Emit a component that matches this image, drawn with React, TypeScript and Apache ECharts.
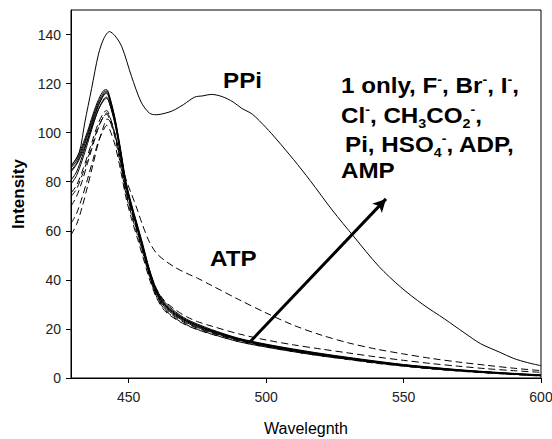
import React, { useEffect, useRef } from "react";
import * as echarts from "echarts";

// Wavelengths (nm) for the cluster / ATP curves
const WL = [429, 431, 433, 435, 437, 439, 441, 442, 443, 445, 447, 449, 451, 453, 455, 457.5, 460, 463, 467, 471, 475, 480, 490, 500, 510, 520, 530, 540, 550, 560, 570, 580, 590, 600];

// Wavelengths (nm) for PPi curve
const WL_PPI = [429, 432, 434, 436.5, 439, 441, 443, 445, 447.5, 451, 454.5, 457.5, 460, 462, 465, 467, 470, 474, 477, 480, 484, 488, 491, 495, 500, 504, 510, 516, 524, 532, 541, 549, 557, 565, 572, 578, 585, 590, 595, 600];
const PPI = [86, 92, 104, 118, 132, 138.5, 141.2, 139.5, 135, 123, 112.5, 108, 107.3, 107.6, 108.5, 109.5, 111.5, 114.5, 115, 115.6, 114.7, 112.5, 110, 107.5, 102, 97, 89, 80.5, 68.5, 57.5, 45.5, 37, 30, 24, 18.5, 14, 10.5, 8, 6.3, 5];

const ATP = [70, 74, 80, 87.5, 95, 102, 107, 108, 106.5, 99.5, 90, 81, 75, 69, 62.5, 55.5, 51, 48, 45, 42.7, 40.7, 37.8, 32, 26.5, 21.5, 17.5, 14.3, 11.8, 9.8, 8, 6.5, 5.2, 4, 3];

const ONE_ONLY = [86.8, 89.5, 94.5, 100.5, 107.5, 113.5, 117.3, 117.5, 115, 106, 93.5, 80, 71, 63, 55, 44.5, 36.5, 31, 27, 24, 22, 19.8, 16.2, 13.8, 11.8, 10, 8.4, 6.9, 5.5, 4.4, 3.4, 2.6, 1.9, 1.3];
const F_ION = [85.6, 88.5, 93.5, 99.5, 106.5, 112.5, 116.5, 117, 114.5, 105.5, 93, 79.5, 70.5, 62.5, 54.5, 44, 36, 30.5, 26.5, 23.7, 21.6, 19.5, 16, 13.6, 11.6, 9.8, 8.2, 6.7, 5.4, 4.3, 3.3, 2.5, 1.8, 1.2];
const BR_ION = [84.5, 87.5, 92.5, 98.5, 105.5, 111.5, 115.8, 116.5, 114, 105, 92.5, 79, 70, 62, 54, 43.5, 35.5, 30, 26, 23.3, 21.3, 19.2, 15.8, 13.4, 11.4, 9.6, 8, 6.5, 5.2, 4.1, 3.2, 2.4, 1.7, 1.1];
const I_ION = [80.6, 84, 90, 97, 104.5, 111, 115.3, 116, 113.5, 104.5, 92, 78.5, 69.5, 61.5, 53.5, 43, 35, 29.5, 25.7, 23, 21, 19, 15.6, 13.2, 11.2, 9.4, 7.9, 6.4, 5.1, 4, 3.1, 2.3, 1.6, 1];
const CL_ION = [79, 82.5, 88.5, 95.5, 103, 109.5, 113.8, 114.5, 112, 103.5, 91, 78, 69, 61, 53, 42.5, 34.5, 29, 25.3, 22.6, 20.6, 18.7, 15.4, 13, 11, 9.3, 7.8, 6.3, 5, 3.9, 3, 2.2, 1.5, 0.9];
const ADP = [84, 87, 91.5, 97, 103.5, 109.5, 113.3, 114, 112, 104, 92, 79, 70, 62, 54, 43.5, 35.5, 30, 26.2, 23.4, 21.4, 19.3, 15.9, 13.5, 11.5, 9.7, 8.1, 6.6, 5.3, 4.2, 3.2, 2.4, 1.7, 1.1];
const ACETATE = [75.4, 78.5, 84, 90.5, 97.5, 104, 108.3, 109, 107, 99.5, 88.5, 76, 67.5, 60, 52, 42, 34, 28.5, 24.8, 22.2, 20.3, 18.4, 15.2, 12.9, 10.9, 9.2, 7.7, 6.2, 4.9, 3.8, 2.9, 2.1, 1.5, 0.9];
const PI = [74, 77, 82.5, 89, 96, 102.5, 106.8, 107.5, 105.5, 98, 87, 75, 66.5, 59, 51.5, 41.5, 33.5, 28, 24.3, 21.7, 19.8, 18, 14.8, 12.6, 10.7, 9, 7.5, 6, 4.8, 3.7, 2.8, 2.1, 1.4, 0.8];
const HSO4 = [63, 67, 73.5, 81, 89, 96.5, 101.5, 103, 101.5, 95, 85, 73.5, 65, 57.5, 50, 40.5, 33, 27.5, 24, 21.5, 19.7, 17.9, 14.8, 12.6, 10.7, 9, 7.6, 6.2, 5, 3.9, 3, 2.2, 1.6, 1];
const AMP = [58.3, 62.5, 69.5, 78, 87, 96, 103, 105.5, 105, 99, 89, 77, 68.5, 61, 53.5, 44, 36.5, 31.5, 27.8, 25, 23, 21.2, 18, 15.5, 13.5, 11.8, 10.2, 8.6, 7.2, 5.9, 4.8, 3.8, 3, 2.3];

const X_TICKS = [450, 500, 550, 600];
const Y_TICKS = [0, 20, 40, 60, 80, 100, 120, 140];

// Arrow (data coordinates): start and end
const ARROW_START = [494.1, 14.7];
const ARROW_END = [543.6, 73];

const FONT = "'Liberation Sans', Arial, Helvetica, sans-serif";

function pairs(xs: number[], ys: number[]) {
  return xs.map((x, i) => [x, ys[i]]);
}

const clusterDefs: { name: string; data: number[]; dashed: boolean }[] = [
  { name: "1 only", data: ONE_ONLY, dashed: false },
  { name: "F-", data: F_ION, dashed: false },
  { name: "Br-", data: BR_ION, dashed: false },
  { name: "I-", data: I_ION, dashed: false },
  { name: "Cl-", data: CL_ION, dashed: false },
  { name: "ADP", data: ADP, dashed: false },
  { name: "CH3CO2-", data: ACETATE, dashed: true },
  { name: "Pi", data: PI, dashed: true },
  { name: "HSO4-", data: HSO4, dashed: true },
  { name: "AMP", data: AMP, dashed: true },
];

export default function App() {
  const ref = useRef<HTMLDivElement>(null);

  useEffect(() => {
    document.body.style.margin = "0";
    if (!ref.current) return;
    const chart = echarts.init(ref.current, null, { renderer: "svg" });

    const dash = [7, 4];
    const series: any[] = [
      {
        name: "PPi",
        type: "line",
        data: pairs(WL_PPI, PPI),
        showSymbol: false,
        smooth: 0.3,
        lineStyle: { color: "#000", width: 1 },
        markLine: {
          silent: true,
          symbol: ["none", "arrow"],
          symbolSize: [10, 13],
          label: { show: false },
          lineStyle: { color: "#000", width: 3, type: "solid" },
          data: [[{ coord: ARROW_START }, { coord: ARROW_END }]],
        },
      },
      {
        name: "ATP",
        type: "line",
        data: pairs(WL, ATP),
        showSymbol: false,
        smooth: 0.3,
        lineStyle: { color: "#000", width: 1, type: dash },
      },
      ...clusterDefs.map((d) => ({
        name: d.name,
        type: "line",
        data: pairs(WL, d.data),
        showSymbol: false,
        smooth: 0.3,
        lineStyle: { color: "#000", width: 1, type: d.dashed ? dash : "solid" },
      })),
    ];

    const bigText = { fontFamily: FONT, fontWeight: "bold", fontSize: 22, fill: "#000" };
    const rich = {
      t: { fontFamily: FONT, fontWeight: "bold", fontSize: 22, lineHeight: 30, verticalAlign: "middle", color: "#000" },
      sup: { fontFamily: FONT, fontWeight: "bold", fontSize: 13, lineHeight: 13, verticalAlign: "top", padding: [3, 0, 0, 0], color: "#000" },
      sub: { fontFamily: FONT, fontWeight: "bold", fontSize: 13, lineHeight: 13, verticalAlign: "bottom", color: "#000" },
    };
    const richLine = (text: string, x: number, y: number) => ({
      type: "text",
      x,
      y,
      scaleX: 1.1,
      silent: true,
      style: { text, rich, verticalAlign: "middle", align: "left", ...{ fontFamily: FONT, fontWeight: "bold", fontSize: 22, fill: "#000" } },
    });

    chart.setOption({
      animation: false,
      backgroundColor: "#fff",
      grid: { left: 71, right: 11, top: 10, bottom: 61, show: true, borderColor: "#000", borderWidth: 1, outerBoundsMode: "none" },
      xAxis: {
        type: "value",
        min: 429,
        max: 600,
        name: "Wavelegnth",
        nameLocation: "middle",
        nameGap: 42,
        nameTextStyle: { fontFamily: FONT, fontSize: 16, color: "#000" },
        axisLine: { lineStyle: { color: "#000", width: 1 } },
        axisTick: { show: true, length: 5, inside: false, customValues: X_TICKS, lineStyle: { color: "#000" } },
        axisLabel: { customValues: X_TICKS, fontFamily: FONT, fontSize: 14, color: "#222", margin: 12 },
        splitLine: { show: false },
      },
      yAxis: {
        type: "value",
        min: 0,
        max: 150,
        name: "Intensity",
        nameLocation: "middle",
        nameGap: 42,
        nameTextStyle: { fontFamily: FONT, fontSize: 17, fontWeight: "bold", color: "#000" },
        axisLine: { show: true, lineStyle: { color: "#000", width: 1 } },
        axisTick: { show: true, length: 5, inside: false, customValues: Y_TICKS, lineStyle: { color: "#000" } },
        axisLabel: { customValues: Y_TICKS, fontFamily: FONT, fontSize: 14, color: "#222", margin: 10 },
        splitLine: { show: false },
      },
      series,
      graphic: [
        { type: "text", x: 223, y: 80, scaleX: 1.1, silent: true, style: { text: "PPi", verticalAlign: "middle", ...bigText } },
        { type: "text", x: 210, y: 258, scaleX: 1.1, silent: true, style: { text: "ATP", verticalAlign: "middle", ...bigText } },
        richLine("{t|1 only, F}{sup|-}{t|, Br}{sup|-}{t|, I}{sup|-}{t|,}", 341, 85.5),
        richLine("{t|Cl}{sup|-}{t|, CH}{sub|3}{t|CO}{sub|2}{sup|-}{t|,}", 341, 115.5),
        richLine("{t|Pi, HSO}{sub|4}{sup|-}{t|, ADP,}", 345, 144),
        richLine("{t|AMP}", 341, 170.5),
      ],
    });

    return () => chart.dispose();
  }, []);

  return <div ref={ref} style={{ width: 552, height: 439 }} />;
}
